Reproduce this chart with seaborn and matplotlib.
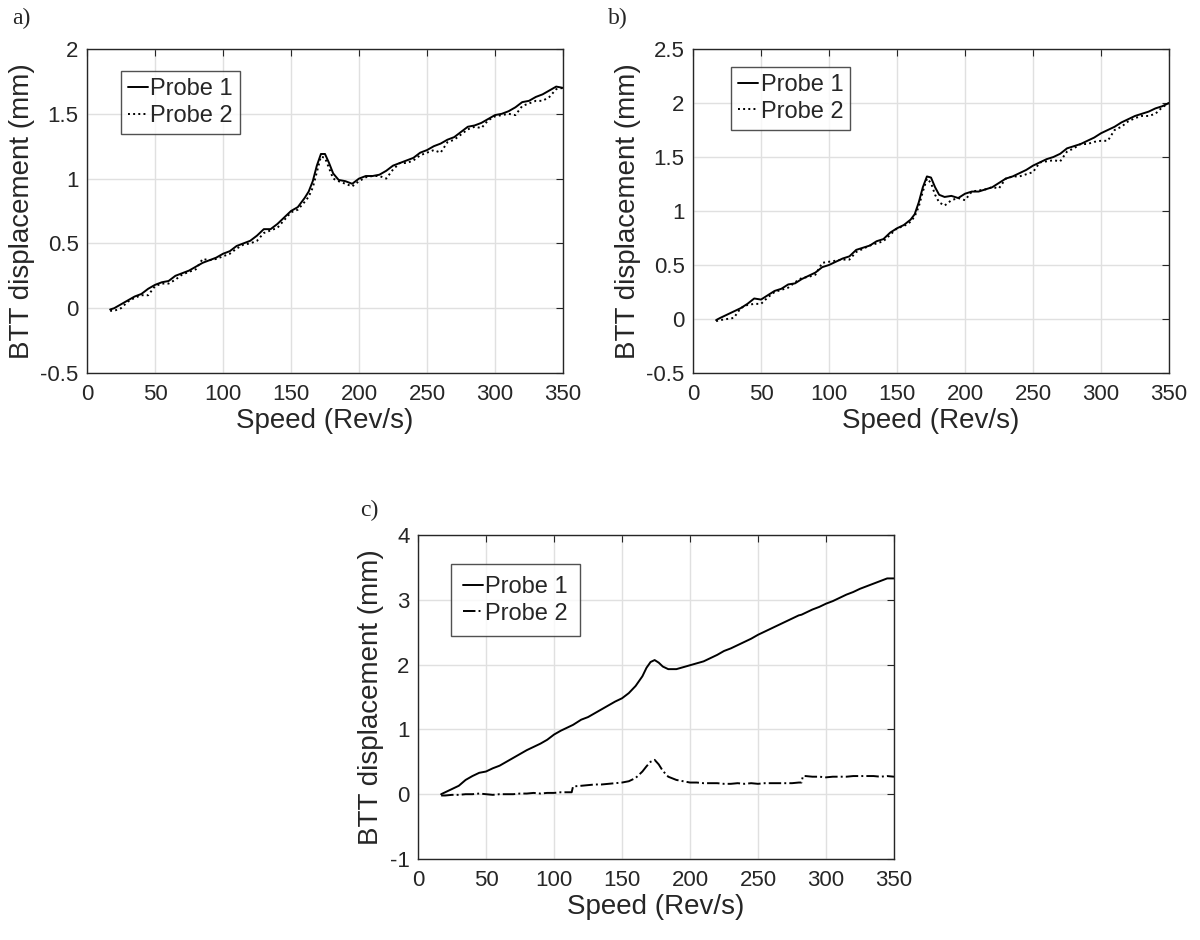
import numpy as np
import pandas as pd
import matplotlib
matplotlib.use("Agg")
import matplotlib.pyplot as plt
import seaborn as sns

# ---------------- data ----------------
speed_ab = [17, 20, 25, 30, 35, 40, 45, 50, 55, 60, 65, 70, 75, 80, 85, 90, 95, 100,
            105, 110, 115, 120, 125, 130, 135, 140, 145, 150, 155, 160, 163, 166, 169,
            172, 175, 178, 181, 185, 190, 195, 200, 205, 210, 215, 220, 225, 230, 235,
            240, 245, 250, 255, 260, 265, 270, 275, 280, 285, 290, 295, 300, 305, 310,
            315, 320, 325, 330, 335, 340, 345, 350]

a_probe1 = [-0.01, 0.00, 0.03, 0.06, 0.09, 0.11, 0.15, 0.18, 0.20, 0.21, 0.25, 0.27,
            0.29, 0.32, 0.35, 0.37, 0.39, 0.42, 0.44, 0.48, 0.50, 0.52, 0.56, 0.61,
            0.61, 0.65, 0.70, 0.75, 0.78, 0.85, 0.90, 0.98, 1.10, 1.19, 1.19, 1.12,
            1.04, 0.99, 0.98, 0.96, 1.00, 1.02, 1.02, 1.03, 1.06, 1.10, 1.12, 1.14,
            1.16, 1.20, 1.22, 1.25, 1.27, 1.30, 1.32, 1.36, 1.40, 1.41, 1.43, 1.46,
            1.49, 1.50, 1.52, 1.55, 1.59, 1.60, 1.63, 1.65, 1.68, 1.71, 1.70]
a_probe2 = [-0.02, -0.02, 0.00, 0.05, 0.08, 0.10, 0.10, 0.17, 0.19, 0.19, 0.22, 0.26,
            0.28, 0.30, 0.38, 0.37, 0.38, 0.40, 0.42, 0.46, 0.49, 0.50, 0.52, 0.58,
            0.60, 0.62, 0.68, 0.74, 0.76, 0.82, 0.86, 0.93, 1.05, 1.17, 1.16, 1.08,
            1.00, 0.98, 0.96, 0.94, 0.98, 1.01, 1.02, 1.02, 1.00, 1.07, 1.12, 1.12,
            1.14, 1.18, 1.20, 1.22, 1.20, 1.28, 1.30, 1.34, 1.38, 1.40, 1.39, 1.45,
            1.48, 1.49, 1.50, 1.49, 1.56, 1.58, 1.60, 1.60, 1.63, 1.69, 1.70]

b_probe1 = [-0.01, 0.01, 0.04, 0.07, 0.10, 0.14, 0.19, 0.18, 0.22, 0.26, 0.28, 0.32,
            0.33, 0.37, 0.40, 0.43, 0.48, 0.50, 0.53, 0.56, 0.58, 0.64, 0.66, 0.68,
            0.72, 0.74, 0.80, 0.84, 0.87, 0.92, 0.97, 1.08, 1.22, 1.32, 1.31, 1.22,
            1.15, 1.13, 1.14, 1.12, 1.16, 1.18, 1.18, 1.20, 1.22, 1.26, 1.30, 1.32,
            1.35, 1.38, 1.42, 1.45, 1.48, 1.50, 1.53, 1.58, 1.60, 1.62, 1.65, 1.68,
            1.72, 1.75, 1.78, 1.82, 1.85, 1.88, 1.90, 1.92, 1.95, 1.97, 2.00]
b_probe2 = [-0.02, -0.01, 0.00, 0.01, 0.10, 0.13, 0.14, 0.14, 0.20, 0.25, 0.27, 0.29,
            0.34, 0.38, 0.39, 0.41, 0.52, 0.53, 0.54, 0.55, 0.55, 0.62, 0.65, 0.68,
            0.70, 0.72, 0.78, 0.84, 0.86, 0.90, 0.95, 1.04, 1.18, 1.30, 1.26, 1.15,
            1.08, 1.05, 1.10, 1.12, 1.10, 1.18, 1.19, 1.20, 1.22, 1.21, 1.30, 1.32,
            1.32, 1.34, 1.36, 1.45, 1.46, 1.47, 1.46, 1.55, 1.58, 1.62, 1.62, 1.64,
            1.65, 1.65, 1.75, 1.78, 1.83, 1.86, 1.88, 1.88, 1.90, 1.96, 2.00]

speed_c = [17, 20, 25, 30, 35, 40, 45, 50, 55, 60, 65, 70, 75, 80, 85, 90, 95, 100,
           105, 110, 113, 114, 120, 125, 130, 135, 140, 145, 150, 155, 160, 165, 168,
           171, 174, 177, 180, 184, 190, 195, 200, 205, 210, 215, 220, 225, 230, 235,
           240, 245, 250, 255, 260, 265, 270, 275, 280, 282, 283, 285, 290, 295, 300,
           305, 310, 315, 320, 325, 330, 335, 340, 345, 350]
c_probe1 = [0.00, 0.03, 0.08, 0.13, 0.22, 0.28, 0.33, 0.35, 0.40, 0.44, 0.50, 0.56,
            0.62, 0.68, 0.73, 0.78, 0.84, 0.92, 0.98, 1.03, 1.06, 1.07, 1.15, 1.19,
            1.25, 1.31, 1.37, 1.43, 1.48, 1.56, 1.67, 1.82, 1.95, 2.04, 2.07, 2.03,
            1.97, 1.93, 1.93, 1.96, 1.99, 2.02, 2.05, 2.10, 2.15, 2.21, 2.25, 2.30,
            2.35, 2.40, 2.46, 2.51, 2.56, 2.61, 2.66, 2.71, 2.76, 2.77, 2.78, 2.80,
            2.85, 2.89, 2.94, 2.98, 3.03, 3.08, 3.12, 3.17, 3.21, 3.25, 3.29, 3.33, 3.33]
c_probe2 = [-0.02, -0.02, -0.01, -0.01, 0.00, 0.00, 0.01, 0.00, -0.01, 0.00, 0.00, 0.00,
            0.01, 0.01, 0.02, 0.01, 0.02, 0.02, 0.03, 0.03, 0.03, 0.12, 0.13, 0.14,
            0.15, 0.15, 0.16, 0.17, 0.18, 0.20, 0.25, 0.35, 0.43, 0.50, 0.53, 0.46,
            0.36, 0.27, 0.22, 0.20, 0.18, 0.18, 0.17, 0.17, 0.17, 0.16, 0.16, 0.17,
            0.16, 0.17, 0.16, 0.17, 0.17, 0.17, 0.17, 0.17, 0.18, 0.18, 0.28, 0.28,
            0.27, 0.27, 0.26, 0.27, 0.27, 0.27, 0.28, 0.28, 0.28, 0.28, 0.27, 0.28, 0.27]

series_names = ["Probe 1", "Probe 2"]
panel_letters = ["a)", "b)", "c)"]
x_ticks = [0, 50, 100, 150, 200, 250, 300, 350]
y_ticks_a = [-0.5, 0, 0.5, 1, 1.5, 2]
y_ticks_b = [-0.5, 0, 0.5, 1, 1.5, 2, 2.5]
y_ticks_c = [-1, 0, 1, 2, 3, 4]
x_label = "Speed (Rev/s)"
y_label = "BTT displacement (mm)"

# ---------------- style ----------------
sns.set_theme(style="white")
plt.rcParams["font.family"] = ["Liberation Sans", "DejaVu Sans"]
plt.rcParams["axes.unicode_minus"] = False

W, H = 1200, 940
fig = plt.figure(figsize=(W / 100, H / 100), dpi=100)


def ax_rect(left, top, right, bottom):
    return [left / W, 1 - bottom / H, (right - left) / W, (bottom - top) / H]


axes = [
    fig.add_axes(ax_rect(87, 49, 563, 373)),
    fig.add_axes(ax_rect(693, 49, 1169, 373)),
    fig.add_axes(ax_rect(418, 535, 894, 859)),
]

panels = [
    (speed_ab, a_probe1, a_probe2, y_ticks_a, ":", (0.071, 0.932), 0.3),
    (speed_ab, b_probe1, b_probe2, y_ticks_b, ":", (0.08, 0.945), 0.3),
    (speed_c, c_probe1, c_probe2, y_ticks_c, "-.", (0.069, 0.91), 0.5),
]

INK = "#262626"
for ax, (xs, p1, p2, yt, ls2, anchor, bpad) in zip(axes, panels):
    df = pd.DataFrame({
        "speed": list(xs) * 2,
        "disp": list(p1) + list(p2),
        "probe": [series_names[0]] * len(xs) + [series_names[1]] * len(xs),
    })
    sns.lineplot(data=df[df.probe == series_names[0]], x="speed", y="disp",
                 ax=ax, color="black", lw=1.4, linestyle="-", sort=False,
                 label=series_names[0])
    sns.lineplot(data=df[df.probe == series_names[1]], x="speed", y="disp",
                 ax=ax, color="black", lw=1.4, linestyle=ls2, sort=False,
                 label=series_names[1])
    ax.set_xlim(0, 350)
    ax.set_ylim(yt[0], yt[-1])
    ax.set_xticks(x_ticks)
    ax.set_yticks(yt)
    ax.set_xticklabels([str(v) for v in x_ticks])
    ax.set_yticklabels([("%g" % v) for v in yt])
    ax.grid(True, color="#e0e0e0", lw=1.0)
    ax.set_axisbelow(True)
    for sp in ax.spines.values():
        sp.set_color(INK)
        sp.set_linewidth(1.0)
        sp.set_visible(True)
    ax.tick_params(direction="in", length=5, width=0.8, colors=INK,
                   labelsize=16, top=True, right=True, labelcolor=INK)
    ax.tick_params(axis="x", pad=8)
    ax.tick_params(axis="y", pad=6)
    ax.set_xlabel(x_label, fontsize=20, color=INK, labelpad=2)
    ax.set_ylabel(y_label, fontsize=20, color=INK, labelpad=4)
    leg = ax.legend(loc="upper left", bbox_to_anchor=anchor,
                    fontsize=17, frameon=True, fancybox=False, edgecolor=INK,
                    handlelength=0.85, handletextpad=0.1, borderpad=bpad,
                    labelspacing=0.2, borderaxespad=0.0)
    leg.get_frame().set_linewidth(1.0)
    for t in leg.get_texts():
        t.set_color(INK)

fig.text(12 / W, 1 - 18 / H, panel_letters[0], fontsize=17, family="Liberation Serif",
         va="center", ha="left")
fig.text(608 / W, 1 - 18 / H, panel_letters[1], fontsize=17, family="Liberation Serif",
         va="center", ha="left")
fig.text(360 / W, 1 - 510 / H, panel_letters[2], fontsize=17, family="Liberation Serif",
         va="center", ha="left")

fig.savefig("out.png", dpi=100, facecolor="white")
